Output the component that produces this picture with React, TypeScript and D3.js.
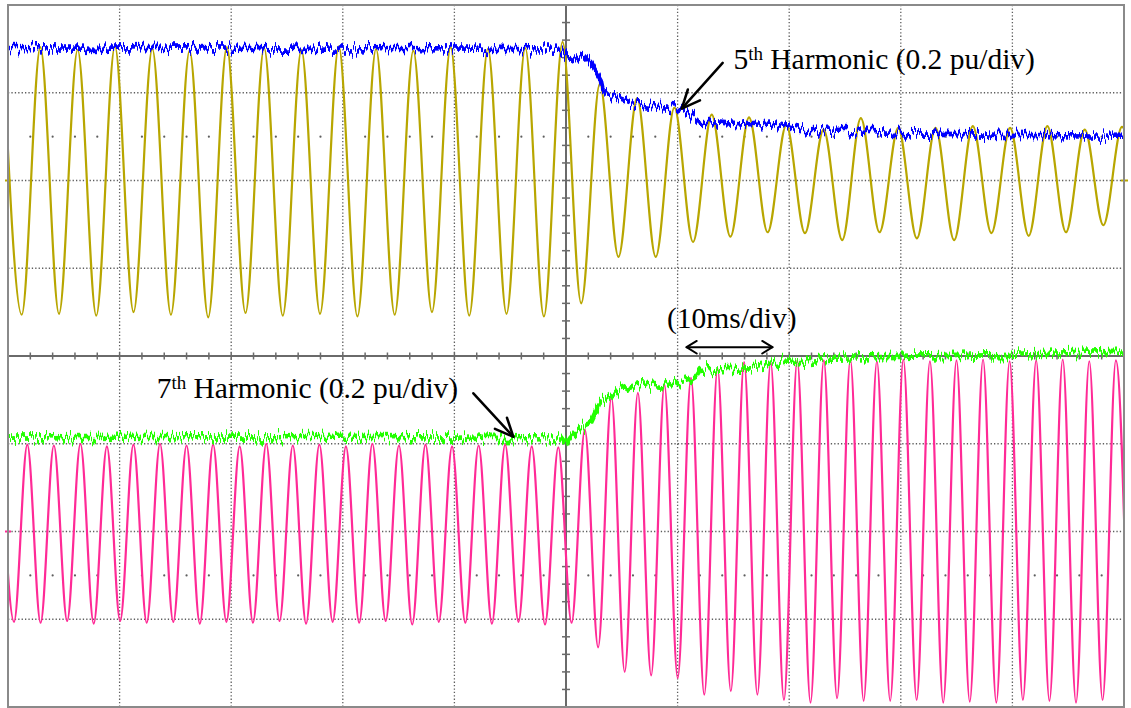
import React from 'react';
import * as d3 from 'd3';

// ---- axes (oscilloscope screen: 10 ms/div horizontally, divisions vertically) ----
const timeDomain: [number, number] = [0, 100]; // ms
const divDomain: [number, number] = [-4, 4]; // screen divisions
const xMajorTicks = [0, 10, 20, 30, 40, 50, 60, 70, 80, 90, 100];
const yMajorTicks = [-4, -3, -2, -1, 0, 1, 2, 3, 4];
const markerRows = [2.5, -2.5];

// ---- 5th harmonic current waveform: alternating extrema [ms, div] ----
const yellowExtrema: [number, number][] = [
  [-0.44, 3.5],
  [1.23, 0.47], [2.9, 3.52], [4.57, 0.48], [6.24, 3.49], [7.91, 0.46], [9.58, 3.53],
  [11.25, 0.5], [12.93, 3.5], [14.6, 0.47], [16.27, 3.48], [17.94, 0.44], [19.61, 3.52],
  [21.28, 0.49], [22.95, 3.51], [24.62, 0.46], [26.29, 3.49], [27.96, 0.48], [29.64, 3.53],
  [31.31, 0.45], [32.98, 3.5], [34.65, 0.47], [36.32, 3.48], [37.99, 0.5], [39.66, 3.52],
  [41.33, 0.46], [43.0, 3.5], [44.67, 0.48], [46.35, 3.51], [48.02, 0.45], [49.69, 3.58],
  [51.36, 0.6], [53.03, 3.1], [54.7, 1.13], [56.37, 2.94], [58.04, 1.13], [59.71, 2.83],
  [61.38, 1.3], [63.06, 2.75], [64.73, 1.36], [66.4, 2.72], [68.07, 1.41], [69.74, 2.63],
  [71.41, 1.4], [73.08, 2.58], [74.75, 1.32], [76.42, 2.71], [78.09, 1.41], [79.77, 2.6],
  [81.44, 1.34], [83.11, 2.6], [84.78, 1.32], [86.45, 2.62], [88.12, 1.4], [89.79, 2.6],
  [91.46, 1.37], [93.13, 2.62], [94.8, 1.41], [96.48, 2.58], [98.15, 1.49], [99.82, 2.61],
  [101.49, 1.4],
];

// ---- 5th harmonic amplitude (blue) [ms, div] ----
const blueAmplitude: [number, number][] = [
  [0, 3.51], [8.2, 3.5], [17.2, 3.52], [26.2, 3.5], [35.1, 3.51], [44.1, 3.5], [49.5, 3.49],
  [50.0, 3.43], [50.8, 3.37], [51.5, 3.43], [52.2, 3.35], [52.6, 3.26], [53.1, 3.15],
  [53.3, 3.03], [53.7, 2.97], [54.8, 2.95], [56.0, 2.89], [57.1, 2.87], [58.4, 2.85],
  [60.0, 2.83], [61.1, 2.77], [62.0, 2.67], [63.8, 2.66], [66.5, 2.63], [68.3, 2.65],
  [70.1, 2.6], [71.9, 2.55], [73.7, 2.57], [79.9, 2.54], [88.9, 2.52], [100, 2.51],
];

// ---- 7th harmonic current waveform: alternating extrema [ms, div] ----
const pinkExtrema: [number, number][] = [
  [-0.65, -1.02],
  [0.54, -3.03], [1.73, -1.01], [2.92, -3.04], [4.11, -1.02], [5.3, -3.02], [6.49, -1.0],
  [7.68, -3.05], [8.86, -1.03], [10.05, -3.02], [11.24, -1.01], [12.43, -3.04], [13.62, -1.0],
  [14.81, -3.03], [16.0, -1.02], [17.19, -3.05], [18.38, -1.01], [19.57, -3.03], [20.76, -1.03],
  [21.95, -3.04], [23.14, -1.0], [24.33, -3.02], [25.52, -1.02], [26.71, -3.05], [27.9, -1.01],
  [29.09, -3.03], [30.28, -1.03], [31.47, -3.04], [32.65, -1.0], [33.84, -3.02], [35.03, -1.02],
  [36.22, -3.06], [37.41, -1.01], [38.6, -3.03], [39.79, -1.03], [40.98, -3.04], [42.17, -1.02],
  [43.36, -3.05], [44.55, -1.01], [45.74, -3.03], [46.93, -1.03], [48.12, -3.06], [49.31, -1.04],
  [50.5, -3.04], [51.69, -0.84], [52.88, -3.32], [54.07, -0.47], [55.26, -3.6], [56.44, -0.42],
  [57.63, -3.64], [58.82, -0.33], [60.01, -3.67], [61.2, -0.25], [62.39, -3.86], [63.58, -0.14],
  [64.77, -3.82], [65.96, -0.07], [67.15, -3.86], [68.34, -0.07], [69.53, -3.92], [70.72, -0.05],
  [71.91, -3.95], [73.1, -0.05], [74.29, -3.9], [75.48, -0.04], [76.67, -3.93], [77.86, -0.06],
  [79.05, -3.93], [80.23, -0.04], [81.42, -3.92], [82.61, -0.06], [83.8, -3.95], [84.99, -0.05],
  [86.18, -3.94], [87.37, -0.04], [88.56, -3.95], [89.75, -0.06], [90.94, -3.92], [92.13, -0.05],
  [93.32, -3.93], [94.51, -0.04], [95.7, -3.95], [96.89, -0.06], [98.08, -3.92], [99.27, -0.05],
  [100.46, -3.93],
];

// ---- 7th harmonic amplitude (green) [ms, div] ----
const greenAmplitude: [number, number][] = [
  [0, -0.93], [10, -0.92], [20, -0.93], [30, -0.92], [40, -0.93], [49.5, -0.94], [49.9, -1.01],
  [50.4, -0.92], [51.3, -0.81], [52.2, -0.76], [52.6, -0.65], [53.0, -0.54], [53.9, -0.47],
  [54.8, -0.39], [55.7, -0.35], [56.6, -0.32], [58.4, -0.35], [60.2, -0.3], [61.1, -0.27],
  [61.7, -0.22], [62.0, -0.16], [63.8, -0.14], [66.5, -0.13], [70.1, -0.07], [73.7, -0.02],
  [79.9, -0.01], [88.9, 0.01], [100, 0.05],
];

// ---- annotations (data coordinates) ----
const label5 = { text: '5', sup: 'th', rest: ' Harmonic (0.2 pu/div)', t: 65.0, v: 3.27 };
const arrow5 = { from: [64.04, 3.34], to: [60.37, 2.82] };
const label7 = { text: '7', sup: 'th', rest: ' Harmonic (0.2 pu/div)', t: 13.32, v: -0.48 };
const arrow7 = { from: [41.7, -0.425], to: [45.28, -0.92] };
const labelTime = { text: '(10ms/div)', t: 59.05, v: 0.32 };
const timeArrow = { from: 60.8, to: 68.5, v: 0.1 };

const W = 1131;
const H = 708;
const plot = { left: 8, right: 1124, top: 5, bottom: 707 };

function arrowHead(x1: number, y1: number, x2: number, y2: number, len: number, ang: number) {
  const a = Math.atan2(y1 - y2, x1 - x2);
  const p1 = [x2 + len * Math.cos(a + ang), y2 + len * Math.sin(a + ang)];
  const p2 = [x2 + len * Math.cos(a - ang), y2 + len * Math.sin(a - ang)];
  return `M${p1[0]},${p1[1]}L${x2},${y2}L${p2[0]},${p2[1]}`;
}

export default function App() {
  const x = d3.scaleLinear().domain(timeDomain).range([plot.left, plot.right]);
  const y = d3.scaleLinear().domain(divDomain).range([plot.bottom, plot.top]);

  const wave = d3
    .line<[number, number]>()
    .x((d) => x(d[0]))
    .y((d) => y(d[1]))
    .curve(d3.curveMonotoneX);
  const env = d3
    .line<[number, number]>()
    .x((d) => x(d[0]))
    .y((d) => y(d[1]))
    .curve(d3.curveLinear);

  const minorT = d3.range(1, 50).map((i) => i * 2);
  const minorV = d3.range(-20, 21).map((i) => i * 0.2);
  const dotT = minorT.filter((t) => t % 10 !== 0);

  const gridColor = '#5e5e5e';
  const axisColor = '#6a6a6a';
  const font = '"Liberation Serif", "Times New Roman", serif';
  const fs = 29.5;
  const sfs = 19;

  const a5 = [x(arrow5.from[0]), y(arrow5.from[1]), x(arrow5.to[0]), y(arrow5.to[1])];
  const a7 = [x(arrow7.from[0]), y(arrow7.from[1]), x(arrow7.to[0]), y(arrow7.to[1])];
  const ta = [x(timeArrow.from), y(timeArrow.v), x(timeArrow.to), y(timeArrow.v)];

  return (
    <svg
      width={W}
      height={H}
      style={{ position: 'absolute', left: 0, top: 0, background: '#fff' }}
      xmlns="http://www.w3.org/2000/svg"
    >
      <defs>
        <clipPath id="plotClip">
          <rect x={plot.left} y={plot.top} width={plot.right - plot.left} height={plot.bottom - plot.top} />
        </clipPath>
        <filter id="jitter" x="-2%" y="-30%" width="104%" height="160%" colorInterpolationFilters="sRGB">
          <feTurbulence type="fractalNoise" baseFrequency="0.5 0.012" numOctaves={2} seed={7} result="turb" />
          <feColorMatrix
            in="turb"
            type="matrix"
            values="0 0 0 0 0.5  1 0 0 0 0  0 0 0 0 0  0 0 0 0 1"
            result="disp"
          />
          <feDisplacementMap in="SourceGraphic" in2="disp" scale={22} xChannelSelector="R" yChannelSelector="G" />
        </filter>
      </defs>
      <rect x={0} y={0} width={W} height={H} fill="#fff" />

      {/* dotted grid */}
      <g stroke={gridColor} strokeWidth={1.3} strokeDasharray="1.3 2.1">
        {xMajorTicks
          .filter((t) => t !== 0 && t !== 50 && t !== 100)
          .map((t) => (
            <line key={'gx' + t} x1={x(t)} x2={x(t)} y1={plot.top} y2={plot.bottom} />
          ))}
        {yMajorTicks
          .filter((v) => v !== -4 && v !== 0 && v !== 4)
          .map((v) => (
            <line key={'gy' + v} x1={plot.left} x2={plot.right} y1={y(v)} y2={y(v)} />
          ))}
      </g>
      <g fill={gridColor}>
        {markerRows.map((v) =>
          dotT.map((t) => <circle key={'d' + v + '_' + t} cx={x(t)} cy={y(v)} r={1.1} />)
        )}
      </g>

      {/* centre axes with minor ticks */}
      <g stroke={axisColor} strokeWidth={2}>
        <line x1={x(50)} x2={x(50)} y1={plot.top} y2={plot.bottom} />
        <line x1={plot.left} x2={plot.right} y1={y(0)} y2={y(0)} />
        {minorT.map((t) => (
          <line key={'tx' + t} x1={x(t)} x2={x(t)} y1={y(0) - 3.5} y2={y(0) + 3.5} strokeWidth={1.5} />
        ))}
        {minorV.map((v, i) => (
          <line key={'ty' + i} x1={x(50) - 4} x2={x(50) + 4} y1={y(v)} y2={y(v)} strokeWidth={1.5} />
        ))}
      </g>

      {/* traces */}
      <g clipPath="url(#plotClip)" fill="none" strokeLinejoin="round">
        <path d={wave(yellowExtrema) || ''} stroke="#b8a600" strokeWidth={2.2} />
        <g filter="url(#jitter)">
          <path d={env(blueAmplitude) || ''} stroke="#0000ff" strokeWidth={4.6} />
        </g>
        <path d={wave(pinkExtrema) || ''} stroke="#ff2a96" strokeWidth={2.2} />
        <g filter="url(#jitter)">
          <path d={env(greenAmplitude) || ''} stroke="#22ff00" strokeWidth={4.6} />
        </g>
      </g>

      {/* channel level markers */}
      <g strokeWidth={2}>
        <line x1={plot.left - 3} x2={plot.left + 3} y1={y(2)} y2={y(2)} stroke="#b8a600" />
        <line x1={plot.right - 3} x2={plot.right + 4} y1={y(2)} y2={y(2)} stroke="#b8a600" />
        <line x1={plot.left - 3} x2={plot.left + 3} y1={y(-2)} y2={y(-2)} stroke="#ff2a96" />
      </g>

      {/* border */}
      <rect
        x={plot.left}
        y={plot.top}
        width={plot.right - plot.left}
        height={plot.bottom - plot.top}
        fill="none"
        stroke="#8a8a8a"
        strokeWidth={2}
      />

      {/* annotations */}
      <g fontFamily={font} fill="#000">
        <text x={x(label5.t)} y={y(label5.v)} fontSize={fs}>
          {label5.text}
          <tspan fontSize={sfs} dy={-9}>{label5.sup}</tspan>
          <tspan fontSize={fs} dy={9}>{label5.rest}</tspan>
        </text>
        <text x={x(label7.t)} y={y(label7.v)} fontSize={fs}>
          {label7.text}
          <tspan fontSize={sfs} dy={-9}>{label7.sup}</tspan>
          <tspan fontSize={fs} dy={9}>{label7.rest}</tspan>
        </text>
        <text x={x(labelTime.t)} y={y(labelTime.v)} fontSize={fs}>
          {labelTime.text}
        </text>
      </g>
      <g stroke="#000" strokeWidth={2.5} fill="none" strokeLinecap="round" strokeLinejoin="round">
        <line x1={a5[0]} y1={a5[1]} x2={a5[2]} y2={a5[3]} />
        <path d={arrowHead(a5[0], a5[1], a5[2], a5[3], 20, 0.42)} />
        <line x1={a7[0]} y1={a7[1]} x2={a7[2]} y2={a7[3]} />
        <path d={arrowHead(a7[0], a7[1], a7[2], a7[3], 20, 0.42)} />
        <line x1={ta[0]} y1={ta[1]} x2={ta[2]} y2={ta[3]} strokeWidth={2} />
        <path d={arrowHead(ta[2], ta[3], ta[0], ta[1], 12, 0.55)} strokeWidth={2} />
        <path d={arrowHead(ta[0], ta[1], ta[2], ta[3], 12, 0.55)} strokeWidth={2} />
      </g>
    </svg>
  );
}
